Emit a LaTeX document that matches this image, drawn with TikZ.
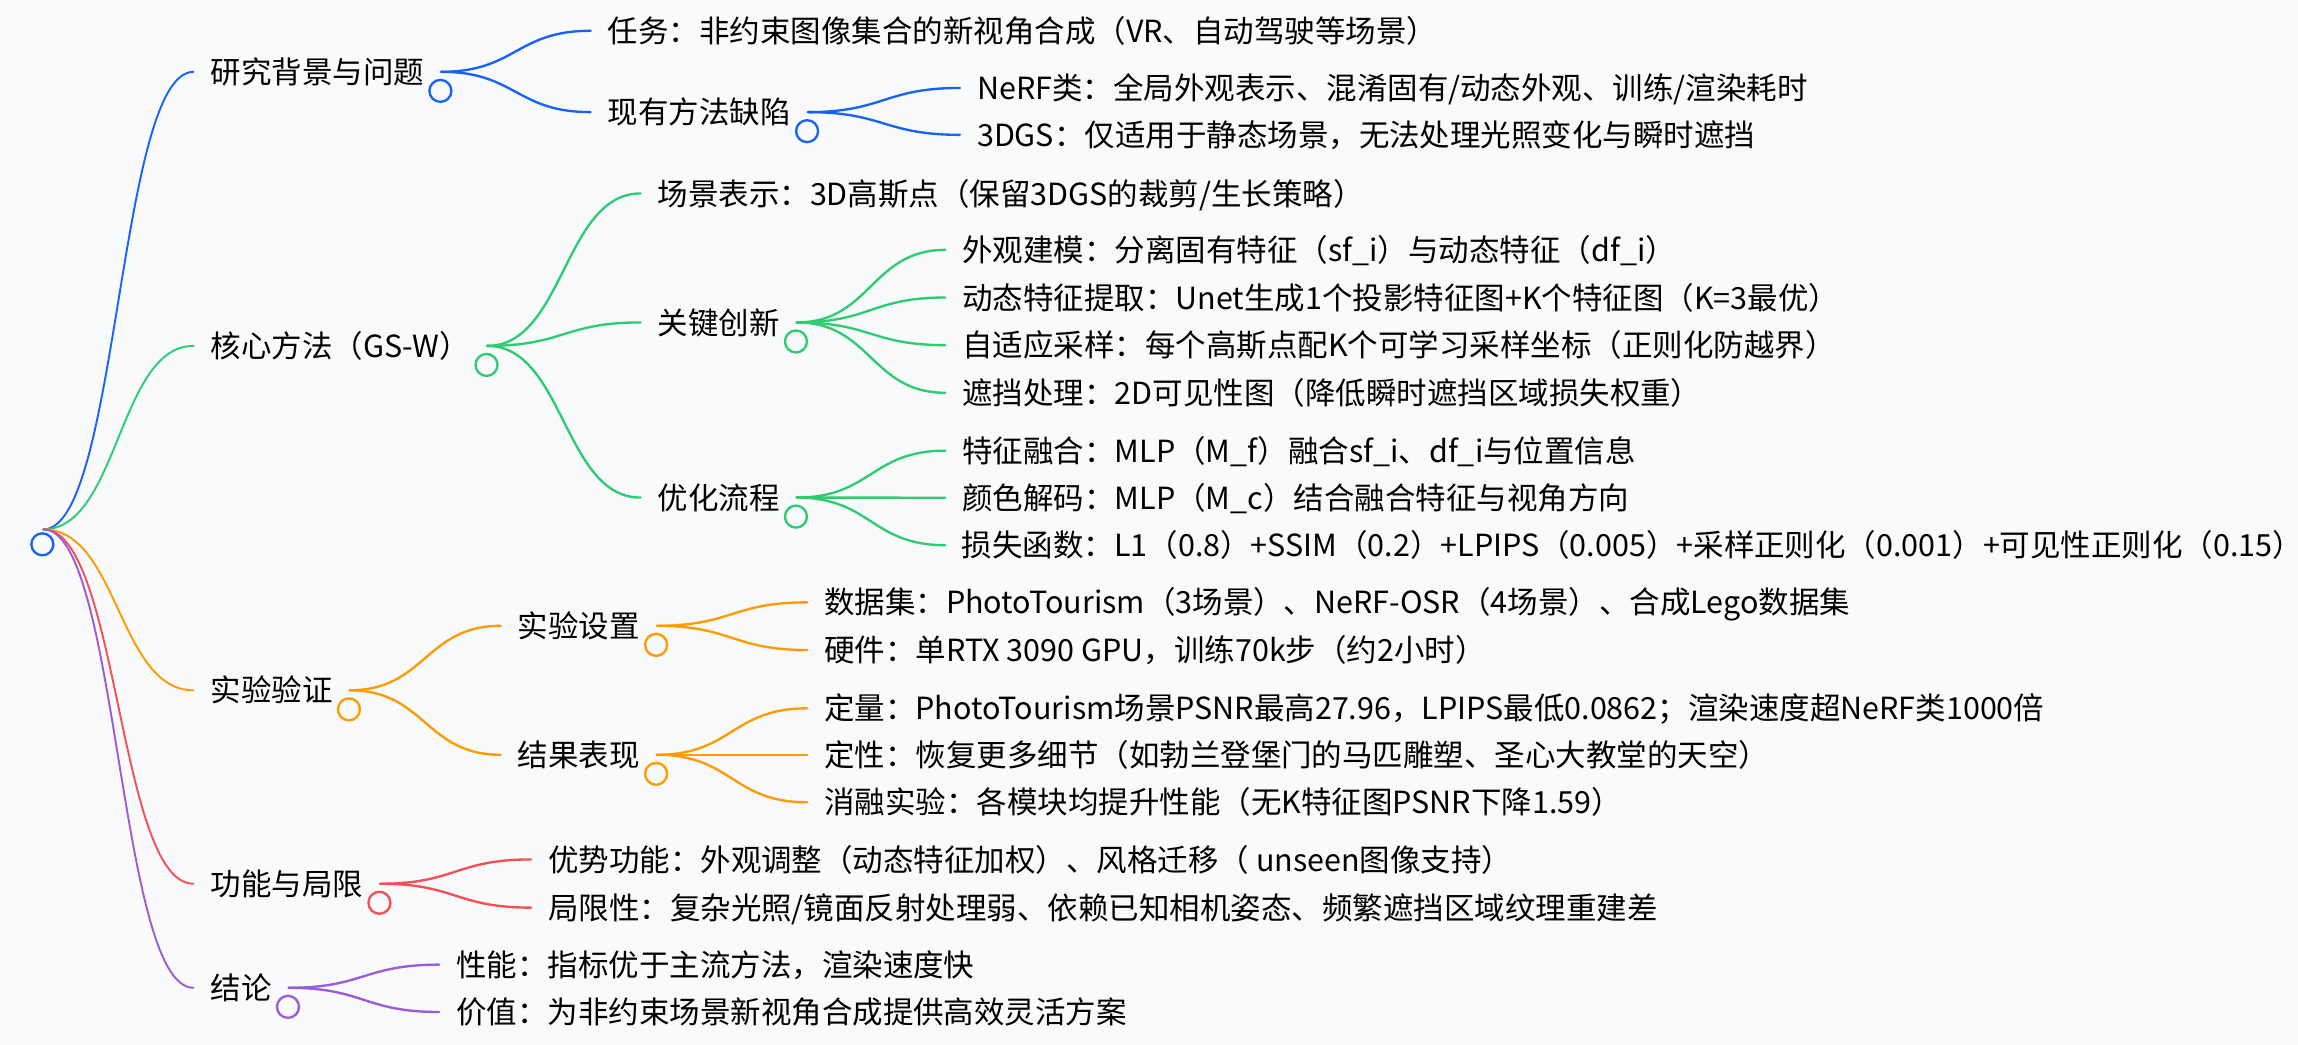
\documentclass[tikz,border=0pt]{standalone}
\usepackage{fontspec}
\setmainfont{Noto Sans CJK SC}
\usetikzlibrary{calc}
\definecolor{bg}{HTML}{F8FAFC}
\definecolor{cblue}{HTML}{1763FA}
\definecolor{cgreen}{HTML}{2ECC71}
\definecolor{corange}{HTML}{FF9A00}
\definecolor{cred}{HTML}{F74F55}
\definecolor{cpurple}{HTML}{9D5BD6}
\tikzset{
  mm/.style={anchor=west, inner xsep=11.5pt, inner ysep=0pt, text height=15.8pt, text depth=0pt,
    font=\fontsize{20.8}{24}\selectfont, text=black},
  lnk/.style={line width=1.6pt, line cap=round},
  rootlnk/.style={line width=1.3pt, line cap=round},
  fold/.style={circle, draw, line width=1.6pt, fill=bg, minimum size=15pt, inner sep=0pt},
}
\newcommand\mmlink[3]{\draw[#1] (#2) .. controls ($(#2)!.5!(#3|-#2)$) and ($(#3)!.5!(#2|-#3)$) .. (#3);}
\begin{document}
\begin{tikzpicture}[x=1pt,y=-1pt]
\fill[bg] (0,0) rectangle (1568,713);
\useasboundingbox (0,0) rectangle (1568,713);

% level 1
\node[mm] (n1) at (132,49) {研究背景与问题};
\node[mm] (n2) at (132,236) {核心方法（GS-W）};
\node[mm] (n3) at (132,471) {实验验证};
\node[mm] (n4) at (132,603) {功能与局限};
\node[mm] (n5) at (132,674) {结论};

% level 2/3
\node[mm] (n11) at (403,21) {任务：非约束图像集合的新视角合成（VR、自动驾驶等场景）};
\node[mm] (n12) at (403,76.5) {现有方法缺陷};
\node[mm] (n121) at (655,60) {NeRF类：全局外观表示、混淆固有/动态外观、训练/渲染耗时};
\node[mm] (n122) at (655,92) {3DGS：仅适用于静态场景，无法处理光照变化与瞬时遮挡};

\node[mm] (n21) at (437,132) {场景表示：3D高斯点（保留3DGS的裁剪/生长策略）};
\node[mm] (n22) at (437,220) {关键创新};
\node[mm] (n221) at (645,170.5) {外观建模：分离固有特征（sf\_i）与动态特征（df\_i）};
\node[mm] (n222) at (645,203) {动态特征提取：Unet生成1个投影特征图+K个特征图（K=3最优）};
\node[mm] (n223) at (645,235.5) {自适应采样：每个高斯点配K个可学习采样坐标（正则化防越界）};
\node[mm] (n224) at (645,268) {遮挡处理：2D可见性图（降低瞬时遮挡区域损失权重）};
\node[mm] (n23) at (437,339.5) {优化流程};
\node[mm] (n231) at (645,307.5) {特征融合：MLP（M\_f）融合sf\_i、df\_i与位置信息};
\node[mm] (n232) at (645,339.6) {颜色解码：MLP（M\_c）结合融合特征与视角方向};
\node[mm,inner xsep=0pt] (n233) at (656,372) {损失函数：L1（0.8）+SSIM（0.2）+LPIPS（0.005）+采样正则化（0.001）+可见性正则化（0.15）};
\coordinate (e233) at ($(n233.west)+(-11,0)$);

\node[mm] (n31) at (341.6,427) {实验设置};
\node[mm] (n311) at (550.7,411) {数据集：PhotoTourism（3场景）、NeRF-OSR（4场景）、合成Lego数据集};
\node[mm] (n312) at (550.7,443.5) {硬件：单RTX 3090 GPU，训练70k步（约2小时）};
\node[mm] (n32) at (341.6,515) {结果表现};
\node[mm] (n321) at (550.7,483.3) {定量：PhotoTourism场景PSNR最高27.96，LPIPS最低0.0862；渲染速度超NeRF类1000倍};
\node[mm] (n322) at (550.7,515) {定性：恢复更多细节（如勃兰登堡门的马匹雕塑、圣心大教堂的天空）};
\node[mm] (n323) at (550.7,547.4) {消融实验：各模块均提升性能（无K特征图PSNR下降1.59）};

\node[mm] (n41) at (362.3,586.4) {优势功能：外观调整（动态特征加权）、风格迁移（ unseen图像支持）};
\node[mm] (n42) at (362.3,619.3) {局限性：复杂光照/镜面反射处理弱、依赖已知相机姿态、频繁遮挡区域纹理重建差};

\node[mm] (n51) at (299.6,658.2) {性能：指标优于主流方法，渲染速度快};
\node[mm] (n52) at (299.6,690.5) {价值：为非约束场景新视角合成提供高效灵活方案};

% root
\coordinate (r0) at (29.6,361.2);
\mmlink{rootlnk,cblue}{r0}{n1.west}
\mmlink{rootlnk,cgreen}{r0}{n2.west}
\mmlink{rootlnk,corange}{r0}{n3.west}
\mmlink{rootlnk,cred}{r0}{n4.west}
\mmlink{rootlnk,cpurple}{r0}{n5.west}

% links
\mmlink{lnk,cblue}{n1.east}{n11.west}
\mmlink{lnk,cblue}{n1.east}{n12.west}
\mmlink{lnk,cblue}{n12.east}{n121.west}
\mmlink{lnk,cblue}{n12.east}{n122.west}

\mmlink{lnk,cgreen}{n2.east}{n21.west}
\mmlink{lnk,cgreen}{n2.east}{n22.west}
\mmlink{lnk,cgreen}{n2.east}{n23.west}
\mmlink{lnk,cgreen}{n22.east}{n221.west}
\mmlink{lnk,cgreen}{n22.east}{n222.west}
\mmlink{lnk,cgreen}{n22.east}{n223.west}
\mmlink{lnk,cgreen}{n22.east}{n224.west}
\mmlink{lnk,cgreen}{n23.east}{n231.west}
\mmlink{lnk,cgreen}{n23.east}{n232.west}
\mmlink{lnk,cgreen}{n23.east}{e233}

\mmlink{lnk,corange}{n3.east}{n31.west}
\mmlink{lnk,corange}{n3.east}{n32.west}
\mmlink{lnk,corange}{n31.east}{n311.west}
\mmlink{lnk,corange}{n31.east}{n312.west}
\mmlink{lnk,corange}{n32.east}{n321.west}
\mmlink{lnk,corange}{n32.east}{n322.west}
\mmlink{lnk,corange}{n32.east}{n323.west}

\mmlink{lnk,cred}{n4.east}{n41.west}
\mmlink{lnk,cred}{n4.east}{n42.west}

\mmlink{lnk,cpurple}{n5.east}{n51.west}
\mmlink{lnk,cpurple}{n5.east}{n52.west}

% fold circles
\node[fold,draw=cblue] (root) at (28.9,371.4) {};
\node[fold,draw=cblue] (c1) at ($(n1.east)+(-0.5,13)$) {};
\node[fold,draw=cblue] (c12) at ($(n12.east)+(-0.5,13)$) {};
\node[fold,draw=cgreen] (c2) at ($(n2.east)+(-0.5,13)$) {};
\node[fold,draw=cgreen] (c22) at ($(n22.east)+(-0.5,13)$) {};
\node[fold,draw=cgreen] (c23) at ($(n23.east)+(-0.5,13)$) {};
\node[fold,draw=corange] (c3) at ($(n3.east)+(-0.5,13)$) {};
\node[fold,draw=corange] (c31) at ($(n31.east)+(-0.5,13)$) {};
\node[fold,draw=corange] (c32) at ($(n32.east)+(-0.5,13)$) {};
\node[fold,draw=cred] (c4) at ($(n4.east)+(-0.5,13)$) {};
\node[fold,draw=cpurple] (c5) at ($(n5.east)+(-0.5,13)$) {};
\end{tikzpicture}
\end{document}
